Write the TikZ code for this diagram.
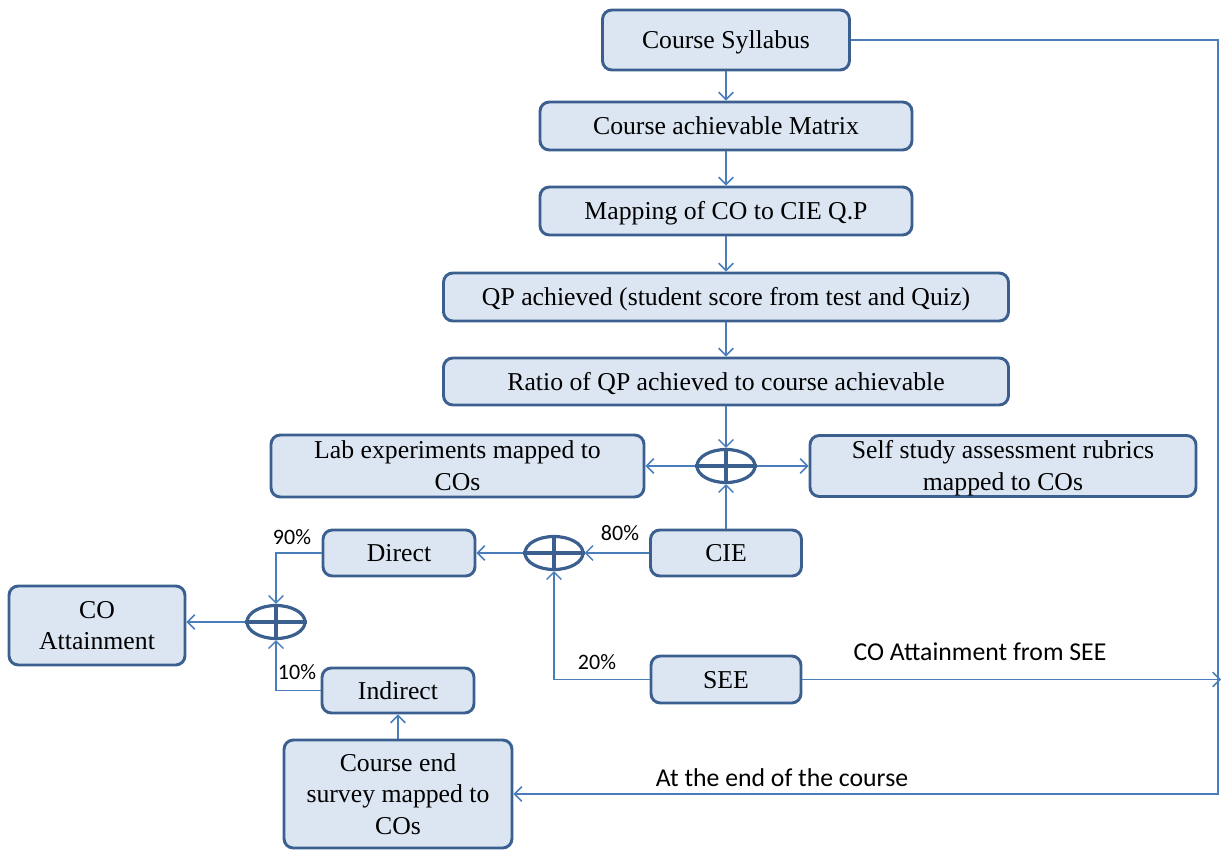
\documentclass[tikz,border=0pt]{standalone}
\usepackage{fontspec}
\setmainfont{Liberation Serif}
\newfontfamily\lblfont{Carlito}
\usetikzlibrary{arrows.meta,shapes.geometric}
\definecolor{boxfill}{HTML}{DCE6F2}
\definecolor{boxline}{HTML}{3B6090}
\definecolor{wire}{HTML}{4A7EBB}
% struts giving each text block the full ascent and descent of the font
\newcommand\topstrut{\rule{0pt}{17.2pt}}
\newcommand\botstrut{\rule[-4.2pt]{0pt}{0pt}}
\begin{document}
\begin{tikzpicture}[x=0.75pt,y=-0.75pt,
  box/.style={draw=boxline,fill=boxfill,line width=2.2pt,rounded corners=7pt,
    inner sep=0pt,align=center,font=\fontsize{19.3}{23.6}\selectfont},
  onebox/.style={box,execute at begin node=\topstrut,execute at end node=\botstrut},
  sumnode/.style={draw=boxline,line width=2.4pt,ellipse,inner sep=0pt,
    minimum width={58*0.75pt},minimum height={33*0.75pt}},
  conn/.style={draw=wire,line width=1.1pt},
  arr/.style={conn,-{Straight Barb[length=5.5pt,width=11pt,line width=1.1pt]}},
  lbl/.style={font=\lblfont\fontsize{19.3}{23}\selectfont,inner sep=0pt},
  pct/.style={font=\lblfont\fontsize{16.5}{20}\selectfont,inner sep=0pt}]
\useasboundingbox (0,0) rectangle (1227,850);

% main column
\node[onebox,minimum width={247*0.75pt},minimum height={60*0.75pt}] (syl) at (726,40) {Course Syllabus};
\node[onebox,minimum width={372*0.75pt},minimum height={48*0.75pt}] (mat) at (726,126) {Course achievable Matrix};
\node[onebox,minimum width={372*0.75pt},minimum height={48*0.75pt}] (map) at (726,211) {Mapping of CO to CIE Q.P};
\node[onebox,minimum width={565*0.75pt},minimum height={48*0.75pt}] (qp) at (726,297) {QP achieved (student score from test and Quiz)};
\node[onebox,minimum width={565*0.75pt},minimum height={47*0.75pt}] (ratio) at (726,381.5) {Ratio of QP achieved to course achievable};

% side assessments
\node[box,minimum width={373*0.75pt},minimum height={62*0.75pt}] (lab) at (457.5,466) {\topstrut Lab experiments mapped to\\COs\botstrut};
\node[box,minimum width={386*0.75pt},minimum height={61*0.75pt}] (self) at (1003,466) {\topstrut Self study assessment rubrics\\mapped to COs\botstrut};

% lower blocks
\node[onebox,minimum width={152*0.75pt},minimum height={46*0.75pt}] (direct) at (399,553) {Direct};
\node[onebox,minimum width={151*0.75pt},minimum height={46*0.75pt}] (cie) at (726,553) {CIE};
\node[box,minimum width={176*0.75pt},minimum height={79*0.75pt}] (coatt) at (97,625.5) {\topstrut CO\\Attainment\botstrut};
\node[onebox,minimum width={152*0.75pt},minimum height={45*0.75pt}] (indirect) at (398,690.5) {Indirect};
\node[onebox,minimum width={150*0.75pt},minimum height={47*0.75pt}] (see) at (726,679.5) {SEE};
\node[box,minimum width={228*0.75pt},minimum height={108*0.75pt}] (survey) at (398,794) {\topstrut Course end\\survey mapped to\\COs\botstrut};

% summing junctions
\node[sumnode] (s1) at (726,466) {};
\node[sumnode] (s2) at (554,553) {};
\node[sumnode] (s3) at (276,622) {};
\foreach \s in {s1,s2,s3}{
  \draw[boxline,line width=2.4pt] (\s.north) -- (\s.south) (\s.west) -- (\s.east);
}

% return path on the right
\coordinate (rb) at (1218,794);
\coordinate (seeend) at (1221,679.5);

% connectors
\draw[arr] (syl) -- (mat);
\draw[arr] (mat) -- (map);
\draw[arr] (map) -- (qp);
\draw[arr] (qp) -- (ratio);
\draw[arr] (ratio.south) -- (s1.north);
\draw[arr] (s1.west) -- (lab.east);
\draw[arr] (s1.east) -- (self.west);
\draw[arr] (cie.north) -- (s1.south);
\draw[arr] (cie.west) -- (s2.east);
\draw[arr] (s2.west) -- (direct.east);
\draw[arr] (see.west) -| (s2.south);
\draw[arr] (direct.west) -| (s3.north);
\draw[arr] (indirect.west) -| (s3.south);
\draw[arr] (s3.west) -- (s3.west -| coatt.east);
\draw[arr] (survey.north) -- (indirect.south);
\draw[arr] (syl.east) -| (rb) -- (survey.east);
\draw[arr] (see.east) -- (seeend);

% labels
\node[pct] (p80) at (620,533) {80\%};
\node[pct] (p20) at (597,662) {20\%};
\node[pct] (p90) at (292,537) {90\%};
\node[pct] (p10) at (297,672) {10\%};
\node[lbl] (lsee) at (980,652) {CO Attainment from SEE};
\node[lbl] (lend) at (782,778) {At the end of the course};
\end{tikzpicture}
\end{document}
